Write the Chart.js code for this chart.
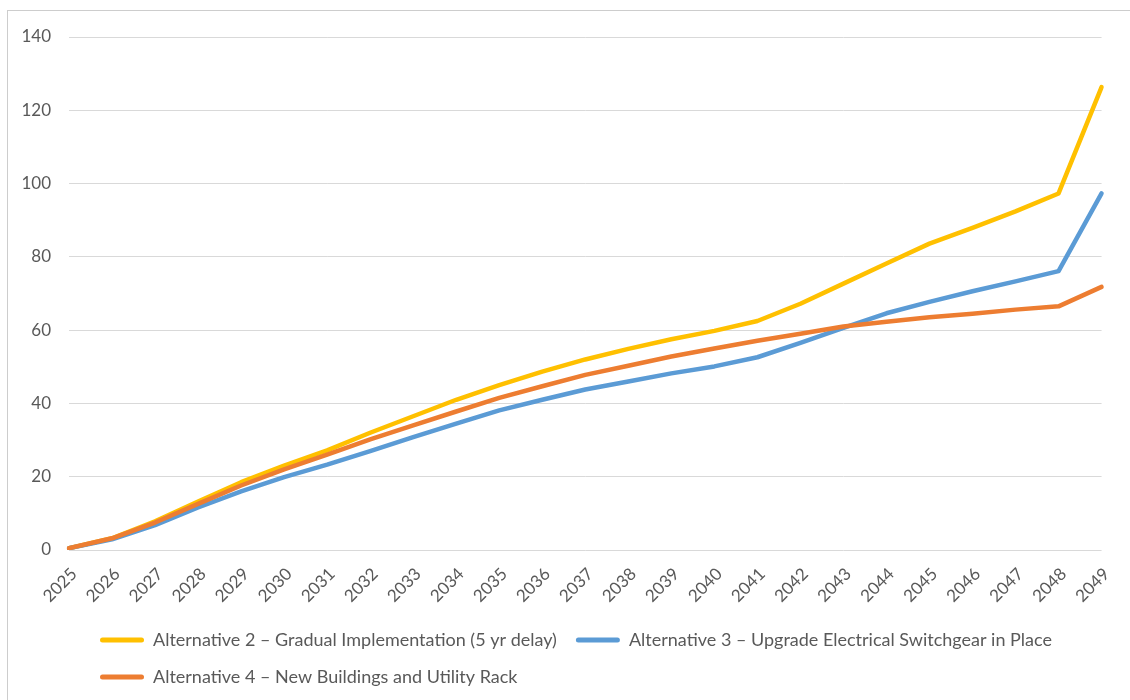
<!DOCTYPE html>
<html>
<head>
<meta charset="utf-8">
<script src="https://cdn.jsdelivr.net/npm/chart.js@4.4.1/dist/chart.umd.min.js"></script>
<style>
  html, body { margin: 0; padding: 0; background: #ffffff; overflow: hidden; }
  #wrap { position: relative; width: 1130px; height: 700px; overflow: hidden; }
  #frame { position: absolute; left: 7px; top: 10px; width: 1150px; height: 720px;
           border: 1px solid #cdcdcd; box-sizing: border-box; }
  #c { position: absolute; left: 0; top: 0; }
</style>
</head>
<body>
<div id="wrap">
  <div id="frame"></div>
  <canvas id="c" width="1130" height="700"></canvas>
</div>
<script>
// Years on the category axis
const years = ['2025', '2026', '2027', '2028', '2029', '2030', '2031', '2032', '2033', '2034',
               '2035', '2036', '2037', '2038', '2039', '2040', '2041', '2042', '2043', '2044',
               '2045', '2046', '2047', '2048', '2049'];

// Series names
const seriesNames = [
  'Alternative 2 \u2013 Gradual Implementation (5 yr delay)',
  'Alternative 3 \u2013 Upgrade Electrical Switchgear in Place',
  'Alternative 4 \u2013 New Buildings and Utility Rack'
];

// Cumulative values per year
const alt2Values = [0.5, 3.2, 7.8, 13.2, 18.5, 23.0, 27.2, 32.0, 36.5, 41.0,
                    45.0, 48.7, 52.0, 54.9, 57.5, 59.8, 62.5, 67.2, 72.7, 78.2,
                    83.6, 87.9, 92.4, 97.3, 126.3];
const alt3Values = [0.5, 2.9, 6.8, 11.6, 16.0, 19.9, 23.3, 27.0, 30.8, 34.5,
                    38.1, 41.0, 43.8, 46.0, 48.2, 50.1, 52.6, 56.5, 60.6, 64.6,
                    67.7, 70.6, 73.3, 76.1, 97.3];
const alt4Values = [0.5, 3.2, 7.5, 12.6, 17.6, 22.0, 26.0, 30.2, 34.0, 37.8,
                    41.5, 44.7, 47.8, 50.3, 52.8, 55.0, 57.1, 59.0, 61.0, 62.3,
                    63.5, 64.5, 65.6, 66.5, 71.8];

// Value axis ticks
const yTicks = [0, 20, 40, 60, 80, 100, 120, 140];

const seriesColors = ['#FFC000', '#5B9BD5', '#ED7D31'];
const textColor = '#595959';
const gridColor = '#d9d9d9';
const fontFamily = 'Lato, "Open Sans", sans-serif';

function lineSet(label, data, color, order) {
  return {
    label: label,
    data: data,
    borderColor: color,
    backgroundColor: color,
    borderWidth: 4.5,
    pointRadius: 0,
    pointHoverRadius: 0,
    tension: 0,
    fill: false,
    borderCapStyle: 'round',
    borderJoinStyle: 'round',
    order: order
  };
}

// Moves the legend block so its rows start under the plot area
const legendIndent = {
  id: 'legendIndent',
  afterLayout(chart) {
    if (chart.legend) {
      chart.legend.left = 81;
    }
  }
};

new Chart(document.getElementById('c'), {
  type: 'line',
  data: {
    labels: years,
    datasets: [
      lineSet(seriesNames[0], alt2Values, seriesColors[0], 3),
      lineSet(seriesNames[1], alt3Values, seriesColors[1], 2),
      lineSet(seriesNames[2], alt4Values, seriesColors[2], 1)
    ]
  },
  options: {
    responsive: false,
    animation: false,
    devicePixelRatio: 1,
    events: [],
    layout: { padding: { left: 0, top: 37, right: 28, bottom: 4 } },
    plugins: {
      title: { display: false },
      tooltip: { enabled: false },
      legend: {
        position: 'bottom',
        align: 'start',
        labels: {
          color: textColor,
          font: { family: fontFamily, size: 18 },
          boxWidth: 44,
          boxHeight: 5,
          padding: 19,
          useBorderRadius: true,
          borderRadius: 2.5,
          sort: (a, b) => a.datasetIndex - b.datasetIndex,
          generateLabels(chart) {
            const items = Chart.defaults.plugins.legend.labels.generateLabels(chart);
            items.forEach(it => { it.lineWidth = 0; });
            return items;
          }
        }
      }
    },
    scales: {
      x: {
        offset: false,
        grid: { display: false, drawTicks: false },
        border: { display: false },
        ticks: {
          color: textColor,
          font: { family: fontFamily, size: 17 },
          autoSkip: false,
          minRotation: 45,
          maxRotation: 45,
          padding: 14,
          labelOffset: 5
        },
        afterFit(scale) { scale.height = 62; }
      },
      y: {
        min: 0,
        max: 140,
        grid: { color: gridColor, lineWidth: 1, drawTicks: false },
        border: { display: false },
        afterBuildTicks(scale) { scale.ticks = yTicks.map(v => ({ value: v })); },
        ticks: {
          color: textColor,
          font: { family: fontFamily, size: 17 },
          padding: 18
        },
        afterFit(scale) { scale.width = 69; }
      }
    }
  },
  plugins: [legendIndent]
});
</script>
</body>
</html>
